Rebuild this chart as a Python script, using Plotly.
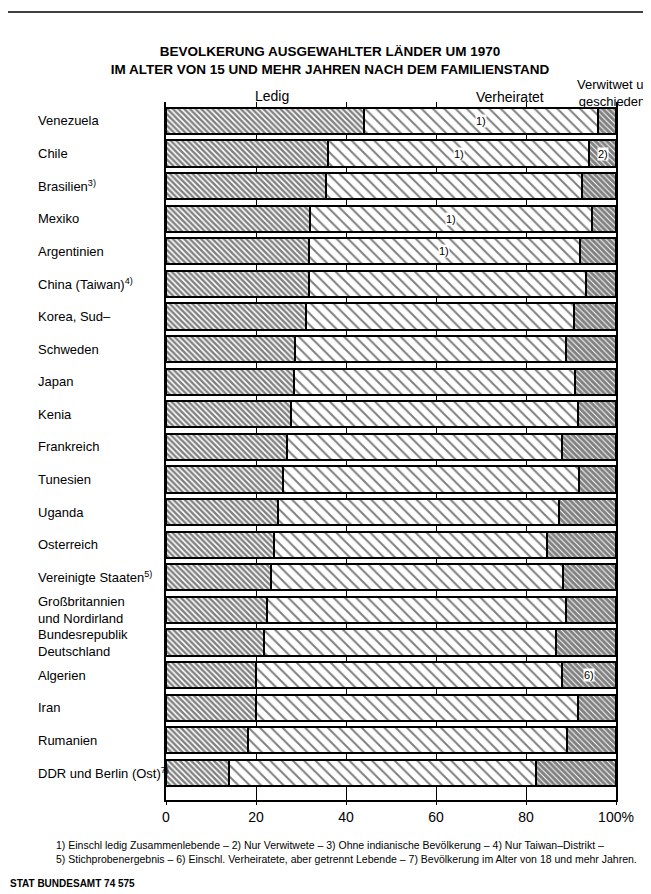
import plotly.graph_objects as go

# ---------------- data ----------------
countries = [
    "Venezuela", "Chile", "Brasilien<sup>3)</sup>", "Mexiko", "Argentinien",
    "China (Taiwan)<sup>4)</sup>", "Korea, Sud–", "Schweden", "Japan", "Kenia",
    "Frankreich", "Tunesien", "Uganda", "Osterreich",
    "Vereinigte Staaten<sup>5)</sup>", "Großbritannien<br>und Nordirland",
    "Bundesrepublik<br>Deutschland", "Algerien", "Iran", "Rumanien",
    "DDR und Berlin (Ost)<sup>7)</sup>",
]
ledig = [44.0, 36.0, 35.5, 32.0, 31.8, 31.7, 31.2, 28.6, 28.4, 27.8,
         26.9, 26.1, 24.8, 24.0, 23.3, 22.5, 21.8, 19.9, 19.9, 18.2, 14.0]
verheiratet = [52.0, 58.0, 56.9, 62.6, 60.1, 61.7, 59.4, 60.2, 62.4, 63.7,
               61.2, 65.7, 62.5, 60.7, 65.0, 66.4, 64.8, 68.2, 71.7, 71.0, 68.3]
verwitwet = [round(100 - a - b, 1) for a, b in zip(ledig, verheiratet)]

series_names = ["Ledig", "Verheiratet", "Verwitwet u.<br>geschieden"]
tick_vals = [0, 20, 40, 60, 80, 100]
tick_text = ["0", "20", "40", "60", "80", "100%"]

# footnote marks inside bars: (country index, segment, text)
notes = [(0, 1, "1)"), (1, 1, "1)"), (3, 1, "1)"), (4, 1, "1)"),
         (1, 2, "2)"), (17, 2, "6)")]

FONT = "Liberation Sans Narrow, Liberation Sans, Arial, sans-serif"

ids = list(range(len(countries)))

fig = go.Figure()
patterns = [
    dict(shape="\\", size=4, solidity=0.6, fgcolor="black", bgcolor="white"),
    dict(shape="\\", size=8, solidity=0.25, fgcolor="black", bgcolor="white"),
    dict(shape="\\", size=4, solidity=0.75, fgcolor="black", bgcolor="white"),
]
for vals, pat, name in zip([ledig, verheiratet, verwitwet], patterns, series_names):
    fig.add_trace(go.Bar(
        y=ids, x=vals, orientation="h", name=name, width=0.8,
        marker=dict(color="white", pattern=pat, line=dict(color="black", width=2)),
        showlegend=False,
    ))

# country labels (left aligned)
for i, c in enumerate(countries):
    fig.add_annotation(x=-0.29, xref="paper", y=i, yref="y", text=c,
                       showarrow=False, xanchor="left", align="left",
                       font=dict(family=FONT, size=13, color="black"))

# notes inside bars
for i, seg, t in notes:
    if seg == 1:
        xpos = ledig[i] + verheiratet[i] / 2
    else:
        xpos = ledig[i] + verheiratet[i] + verwitwet[i] / 2
    fig.add_annotation(x=xpos, y=i, text=t, showarrow=False, bgcolor="white",
                       borderpad=0, font=dict(family=FONT, size=11, color="black"))

# column headers
fig.add_annotation(x=0.235, xref="paper", xanchor="center", y=1.0, yref="paper",
                   yanchor="middle", yshift=6, text="Ledig", showarrow=False,
                   font=dict(family=FONT, size=14, color="black"))
fig.add_annotation(x=0.765, xref="paper", xanchor="center", y=1.0, yref="paper",
                   yanchor="middle", yshift=5, text="Verheiratet", showarrow=False,
                   font=dict(family=FONT, size=14, color="black"))
fig.add_annotation(x=0.99, xref="paper", xanchor="center", y=1.0, yref="paper",
                   yanchor="middle", yshift=9, text="Verwitwet u.<br>geschieden",
                   showarrow=False, font=dict(family=FONT, size=13, color="black"))

# footnotes
fig.add_annotation(x=-0.249, xref="paper", y=-0.0745, yref="paper", xanchor="left",
                   yanchor="middle",
                   text="1) Einschl ledig Zusammenlebende – 2) Nur Verwitwete – 3) Ohne indianische Bevölkerung – 4) Nur Taiwan–Distrikt –<br>"
                        "5) Stichprobenergebnis – 6) Einschl. Verheiratete, aber getrennt Lebende – 7) Bevölkerung im Alter von 18 und mehr Jahren.",
                   showarrow=False, align="left",
                   font=dict(family=FONT, size=10.5, color="black"))
fig.add_annotation(x=-0.352, xref="paper", y=-0.119, yref="paper", xanchor="left",
                   yanchor="middle",
                   text="<b>STAT BUNDESAMT 74 575</b>", showarrow=False,
                   font=dict(family=FONT, size=10, color="black"))

# outer frame (open at the bottom)
fx0, fx1, fy_top, fy_left_bot, fy_right_bot = -0.354, 1.085, 1.129, -0.109, -0.129
frame_line = dict(color="black", width=1.5)
fig.add_shape(type="line", xref="paper", yref="paper", x0=fx0, x1=fx0,
              y0=fy_left_bot, y1=fy_top, line=frame_line)
fig.add_shape(type="line", xref="paper", yref="paper", x0=fx0, x1=fx1,
              y0=fy_top, y1=fy_top, line=frame_line)
fig.add_shape(type="line", xref="paper", yref="paper", x0=fx1, x1=fx1,
              y0=fy_right_bot, y1=fy_top, line=frame_line)

fig.update_layout(
    width=643, height=886,
    margin=dict(l=158, r=35, t=94, b=94),
    barmode="stack",
    paper_bgcolor="white", plot_bgcolor="white",
    title=dict(text="<b>BEVOLKERUNG AUSGEWAHLTER LÄNDER UM 1970<br>IM ALTER VON 15 UND MEHR JAHREN NACH DEM FAMILIENSTAND</b>",
               x=0.5008, xanchor="center", y=0.9453, yanchor="middle",
               font=dict(family=FONT, size=13.5, color="black")),
    font=dict(family=FONT, color="black"),
)
fig.update_xaxes(range=[0, 100], tickvals=tick_vals, ticktext=tick_text,
                 showgrid=True, gridcolor="black", gridwidth=1,
                 showline=True, linecolor="black", linewidth=1.5,
                 ticks="outside", ticklen=3, tickcolor="black",
                 tickfont=dict(family=FONT, size=14, color="black"),
                 zeroline=False, fixedrange=True)
fig.update_yaxes(range=[20.83, -0.58], showticklabels=False, showgrid=False,
                 showline=True, mirror=True, linecolor="black", linewidth=1.5,
                 zeroline=False, ticks="")

fig.write_html("out.html")
